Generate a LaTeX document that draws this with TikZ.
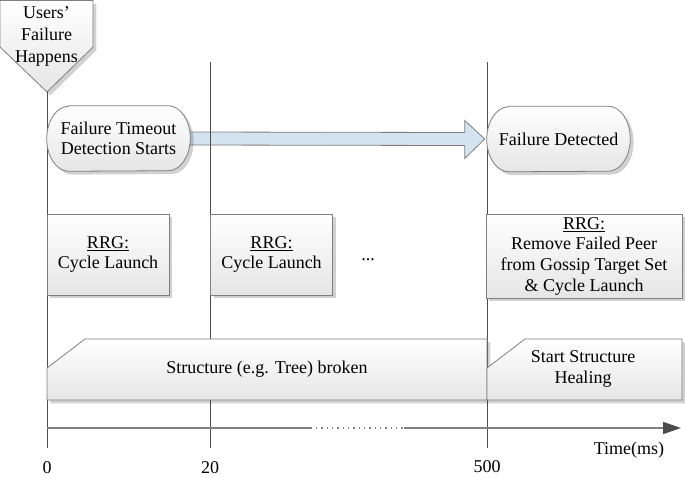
\documentclass[tikz,border=0pt]{standalone}
\usepackage{fontspec}
\setmainfont{Liberation Serif}
\usetikzlibrary{arrows.meta,calc,shadows,backgrounds}
\definecolor{edgegray}{HTML}{7F7F7F}
\definecolor{linegray}{HTML}{4D4D4D}
\definecolor{arrowblue}{HTML}{D5E2EF}
\pgfdeclarelayer{arrowlayer}
\pgfsetlayers{arrowlayer,background,main}
% pill outline round a node (#1)
\newcommand{\pillshape}[1]{%
  \path[shadebox] ($(#1.north west)+(22,0)$) -- ($(#1.north east)+(-22,0)$)
    arc[start angle=90, end angle=-90, x radius=16.5pt, y radius=24.375pt]
    -- ($(#1.south west)+(22,0)$)
    arc[start angle=270, end angle=90, x radius=16.5pt, y radius=24.375pt] -- cycle;}

\begin{document}
\begin{tikzpicture}[x=0.75pt, y=-0.75pt,
    txt/.style={font=\fontsize{13.5pt}{15.5pt}\selectfont, align=center},
    shadebox/.style={draw=edgegray, line width=0.6pt, top color=white, bottom color=black!10,
      drop shadow={shadow xshift=2.5pt, shadow yshift=-2.5pt, fill=black, opacity=0.18}},
    rrgbox/.style={shadebox, txt, rectangle, inner sep=2pt},
    pill/.style={txt, rectangle, inner sep=0pt, minimum width=107.25pt, minimum height=48.75pt},
    timeline/.style={draw=linegray, line width=0.6pt},
    bigarrow/.style={draw=edgegray, fill=arrowblue, line width=0.6pt},
    timeaxis/.style={draw=gray, line width=1.3pt, -{Triangle[length=13.5pt, width=9pt, color=black!70]}}]
        \useasboundingbox (0,0) rectangle (685,478);
        %%Time lines
        \coordinate (tip0) at (47,92);
        \coordinate (bot0) at (47,448);
        \coordinate (top20) at (210,62);
        \coordinate (bot20) at (210,448);
        \coordinate (top500) at (487,62);
        \coordinate (bot500) at (487,448);
        \begin{scope}[on background layer]
        \draw[timeline] (tip0) -- (bot0);
        \draw[timeline] (top20) -- (bot20);
        \draw[timeline] (top500) -- (bot500);
        \end{scope}
        %%Users' failure
        \path[shadebox] (0,0.5) -- (93,0.5) -- (93,47) -- (tip0) -- (0,47) -- cycle;
        \node[txt, font=\fontsize{13.5pt}{16.5pt}\selectfont, inner sep=0pt] (users) at (46.5,36) {Users’\\Failure\\Happens};
        %%Detection
        \node[pill] (timeout) at (118.5,138.5) {Failure Timeout\\Detection Starts};
        \node[pill] (detected) at (558.5,139) {Failure Detected};
        \begin{scope}[on background layer]
        \pillshape{timeout}
        \pillshape{detected}
        \end{scope}
        \begin{pgfonlayer}{arrowlayer}
        \draw[bigarrow] ($(timeout.east)+(-4,-6.5)$) -- ($(detected.west)+(-22,-6.5)$)
            -- ($(detected.west)+(-22,-18.5)$) -- ($(detected.west)+(-2,0)$)
            -- ($(detected.west)+(-22,19.5)$) -- ($(detected.west)+(-22,6.5)$)
            -- ($(timeout.east)+(-4,6.5)$) -- cycle;
        \end{pgfonlayer}
        %%RRG
        \node[rrgbox, minimum width=91.5pt, minimum height=60.75pt] (rrga) at (108,254.5) {\underline{RRG:}\\Cycle Launch};
        \node[rrgbox, minimum width=91.5pt, minimum height=60.75pt] (rrgb) at (271.5,254.5) {\underline{RRG:}\\Cycle Launch};
        \node[txt] (dots) at (368,260) {...};
        \node[rrgbox, minimum width=147pt, minimum height=63pt] (rrgc) at (584,256) {\underline{RRG:}\\Remove Failed Peer\\from Gossip Target Set\\\& Cycle Launch};
        %%Structure
        \path[shadebox] (47,400) -- (47,368) -- (85,339) -- (487,339) -- (487,400) -- cycle;
        \path[shadebox] (487,400) -- (487,368) -- (525,339) -- (682,339) -- (682,400) -- cycle;
        \node[txt] (broken) at (267,369) {Structure (e.g. Tree) broken};
        \node[txt] (healing) at (583,369) {Start Structure\\Healing};
        %%Time axis
        \coordinate (axstart) at (47,428);
        \coordinate (axend) at (681,428);
        \coordinate (gapa) at (312,428);
        \coordinate (gapb) at (403,428);
        \draw[timeaxis] (axstart) -- (axend);
        \draw[white, line width=1.3pt, dash pattern=on 3pt off 1pt] (gapa) -- (gapb);
        \node[txt] (timelbl) at (629,450) {Time(ms)};
        \node[txt] (lbla) at (47,468) {0};
        \node[txt] (lblb) at (210,468) {20};
        \node[txt] (lblc) at (487,467) {500};
    \end{tikzpicture}
\end{document}
